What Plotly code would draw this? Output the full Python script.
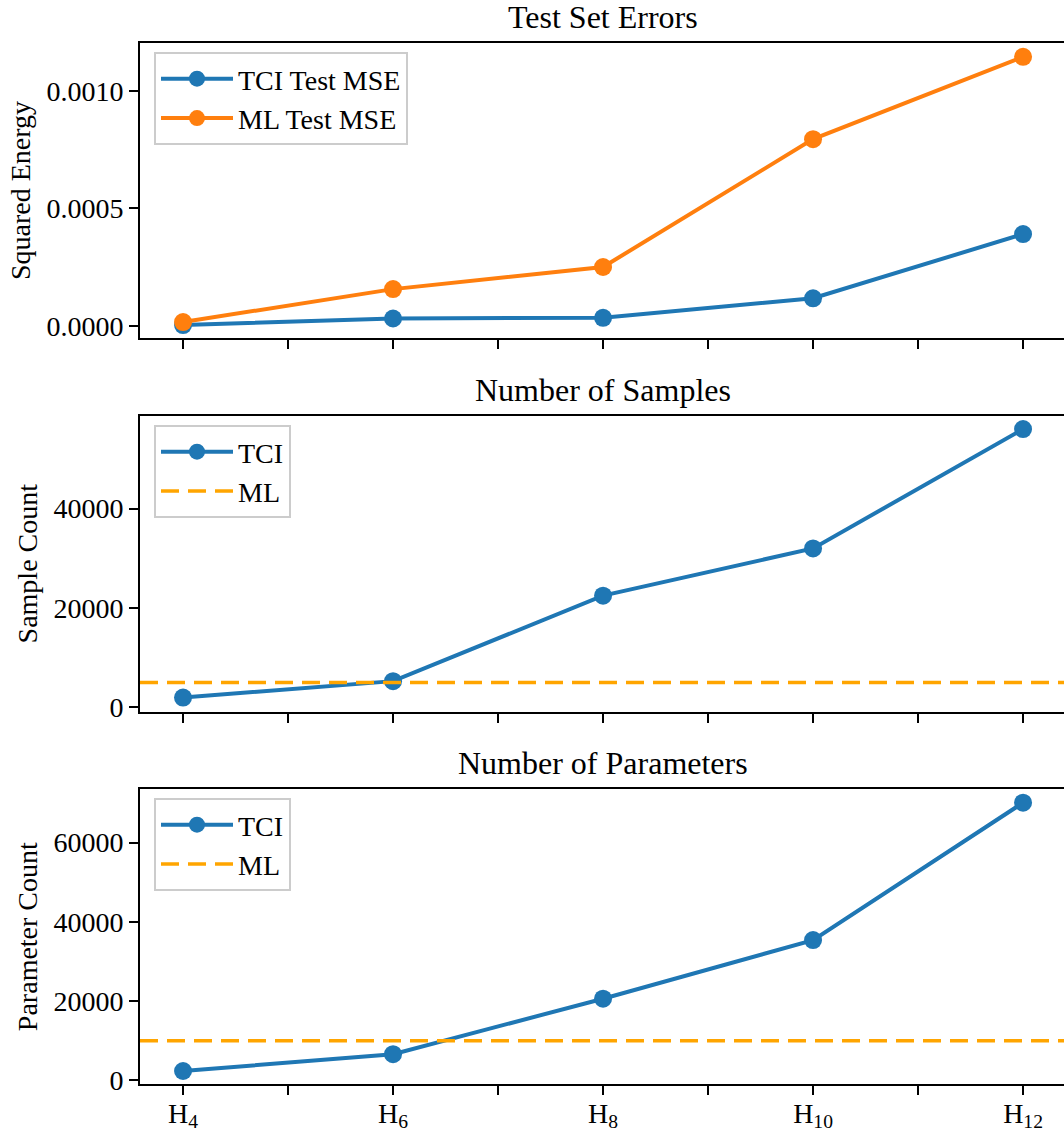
import plotly.graph_objects as go
from plotly.subplots import make_subplots

# ---- data ----
x_vals = [4, 6, 8, 10, 12]
x_labels = ["H<sub>4</sub>", "H<sub>6</sub>", "H<sub>8</sub>", "H<sub>10</sub>", "H<sub>12</sub>"]
tci_test_mse = [0.000004, 0.000032, 0.000035, 0.000118, 0.000391]
ml_test_mse = [0.000017, 0.000157, 0.000251, 0.000795, 0.001145]
tci_samples = [2000, 5300, 22500, 32000, 56000]
ml_samples = 5000
tci_params = [2350, 6600, 20600, 35400, 70100]
ml_params = 10000

titles = ["Test Set Errors", "Number of Samples", "Number of Parameters"]
ytitles = ["Squared Energy", "Sample Count", "Parameter Count"]

W, H = 1064, 1133
FONT = "Liberation Serif"
FS = 28
TFS = 32
BLUE = "#1f77b4"
ORANGE = "#ff7f0e"
ML_COLOR = "#ffa500"

fig = make_subplots(rows=3, cols=1, shared_xaxes=True)

fig.add_trace(go.Scatter(x=x_vals, y=tci_test_mse, mode="lines+markers", name="TCI Test MSE",
                         line=dict(color=BLUE, width=4), marker=dict(size=18, color=BLUE),
                         legend="legend"), row=1, col=1)
fig.add_trace(go.Scatter(x=x_vals, y=ml_test_mse, mode="lines+markers", name="ML Test MSE",
                         line=dict(color=ORANGE, width=4), marker=dict(size=18, color=ORANGE),
                         legend="legend"), row=1, col=1)

fig.add_trace(go.Scatter(x=x_vals, y=tci_samples, mode="lines+markers", name="TCI",
                         line=dict(color=BLUE, width=4), marker=dict(size=18, color=BLUE),
                         legend="legend2"), row=2, col=1)
fig.add_hline(y=ml_samples, row=2, col=1, line=dict(color=ML_COLOR, width=3.5, dash="18px,9px"),
              showlegend=True, name="ML", legend="legend2")

fig.add_trace(go.Scatter(x=x_vals, y=tci_params, mode="lines+markers", name="TCI",
                         line=dict(color=BLUE, width=4), marker=dict(size=18, color=BLUE),
                         legend="legend3"), row=3, col=1)
fig.add_hline(y=ml_params, row=3, col=1, line=dict(color=ML_COLOR, width=3.5, dash="18px,9px"),
              showlegend=True, name="ML", legend="legend3")

# ---- layout ----
def py(px):
    return 1 - px / H

domains = [(338, 43), (711.7, 415.7), (1084, 789.3)]
yranges = [[-0.000051, 0.001204], [-850, 58700], [-935, 73480]]
ytickvals = [[0, 0.0005, 0.001], [0, 20000, 40000], [0, 20000, 40000, 60000]]
ytickfmt = [".4f", "d", "d"]

xdom = [140 / W, 1.0]
for i in range(3):
    n = "" if i == 0 else str(i + 1)
    fig.layout["xaxis" + n].update(
        domain=xdom, range=[3.59, 12.39], tickmode="array", tickvals=x_vals, ticktext=x_labels,
        showticklabels=(i == 2), ticks="outside", ticklen=9, tickwidth=2, tickcolor="black",
        minor=dict(tickmode="array", tickvals=[5, 7, 9, 11], ticks="outside", ticklen=9,
                   tickwidth=2, tickcolor="black"),
        showline=True, linecolor="black", linewidth=2, mirror=True, showgrid=False,
        zeroline=False, automargin=False, ticklabelstandoff=-6,
        tickfont=dict(family=FONT, size=FS, color="black"))
    fig.layout["yaxis" + n].update(
        domain=[py(domains[i][0]), py(domains[i][1])], range=yranges[i],
        tickmode="array", tickvals=ytickvals[i], tickformat=ytickfmt[i],
        ticks="outside", ticklen=9, tickwidth=2, tickcolor="black",
        showline=True, linecolor="black", linewidth=2, mirror=False, showgrid=False,
        zeroline=False, automargin=False,
        tickfont=dict(family=FONT, size=FS, color="black"),
        title=dict(text=ytitles[i], font=dict(family=FONT, size=FS, color="black"), standoff=8))
    fig.add_annotation(text=titles[i], xref="paper", yref="paper",
                       x=(140 + 1065) / 2 / W, y=py(domains[i][1]),
                       xanchor="center", yanchor="bottom", yshift=6, showarrow=False,
                       font=dict(family=FONT, size=TFS, color="black"))

leg_common = dict(xanchor="left", yanchor="top", bgcolor="white", bordercolor="#cccccc",
                  borderwidth=2, itemwidth=72,
                  font=dict(family=FONT, size=FS, color="black"))
fig.update_layout(
    width=W, height=H, margin=dict(l=0, r=0, t=0, b=0),
    paper_bgcolor="white", plot_bgcolor="white",
    font=dict(family=FONT, size=FS, color="black"),
    legend=dict(x=154 / W, y=py(52), **leg_common),
    legend2=dict(x=154 / W, y=py(425), **leg_common),
    legend3=dict(x=154 / W, y=py(798), **leg_common),
)

fig.write_html("out.html")
